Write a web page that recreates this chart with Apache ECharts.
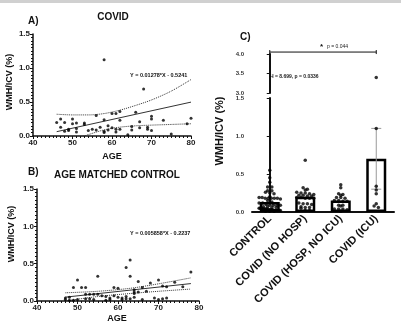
<!DOCTYPE html>
<html>
<head>
<meta charset="utf-8">
<script src="https://cdn.jsdelivr.net/npm/echarts@6/dist/echarts.min.js"></script>
<style>html,body{margin:0;padding:0;background:#fff}#chart{width:401px;height:322px}</style>
</head>
<body>
<div id="chart"></div>
<script>
// A) COVID - age vs WMH/ICV
var ageA = [46,47,47,48,48,49,49,50,50,51,51,51,53,53,54,55,56,56,57,58,58,58,58,59,59,60,60,61,61,61,62,62,62,64,65,65,66,67,67,68,69,69,70,70,70,73,75,79,80];
var wmhA = [0.20,0.25,0.13,0.20,0.07,0.10,0.08,0.25,0.18,0.19,0.11,0.06,0.19,0.17,0.08,0.10,0.30,0.09,0.13,1.12,0.24,0.07,0.05,0.15,0.09,0.33,0.12,0.33,0.10,0.06,0.23,0.36,0.10,0.02,0.14,0.09,0.35,0.21,0.12,0.69,0.13,0.10,0.29,0.25,0.08,0.23,0.03,0.18,0.26];
var fitA = [0.01278, -0.5241];
var fitRangeA = [46, 80];
var bandAgeA = [46, 50, 54, 58, 62, 66, 70, 75, 80];
var bandUpA = [0.32, 0.31, 0.31, 0.33, 0.38, 0.45, 0.53, 0.66, 0.83];
var bandLowA = [-0.15, -0.06, 0.02, 0.09, 0.13, 0.15, 0.16, 0.17, 0.18];

// B) age matched control
var ageB = [47,47,48,48,49,49,50,50,51,52,52,52,53,53,54,54,55,55,56,57,57,58,58,59,59,60,60,61,61,62,62,62,63,63,63,64,64,64,64,65,65,66,66,67,68,69,70,70,71,71,72,72,74,76,78];
var wmhB = [0.04,0.02,0.01,0.05,0.18,0.01,0.28,0.02,0.18,0.18,0.09,0.03,0.09,0.03,0.09,0.02,0.33,0.09,0.07,0.01,0.06,0.04,0.02,0.18,0.07,0.17,0.05,0.02,0.04,0.03,0.45,0.06,0.55,0.33,0.03,0.10,0.15,0.05,0.12,0.26,0.12,0.18,0.02,0.13,0.24,0.04,0.28,0.02,0.20,0.03,0.19,0.04,0.25,0.19,0.39];
var fitB = [0.005858, -0.2237];
var fitRangeB = [47, 78];
var bandAgeB = [47, 55, 63, 70, 78];
var bandUpB = [0.11, 0.13, 0.17, 0.23, 0.31];
var bandLowB = [0.00, 0.06, 0.10, 0.13, 0.16];

// C) groups
var groups = ['CONTROL', 'COVID (NO HOSP)', 'COVID (HOSP, NO ICU)', 'COVID (ICU)'];
var noHosp = [0.68,0.32,0.30,0.29,0.26,0.25,0.25,0.24,0.23,0.22,0.22,0.21,0.21,0.19,0.19,0.18,0.18,0.18,0.12,0.11,0.11,0.10,0.07,0.06,0.06,0.05,0.02,0.02];
var hospNoIcu = [0.36,0.32,0.24,0.23,0.22,0.19,0.19,0.18,0.15,0.15,0.14,0.14,0.09,0.09,0.08,0.04,0.04,0.04,0.03,0.01];
var icu = [3.40,1.10,0.34,0.29,0.24,0.11,0.08,0.06];
var groupMeans = [0.13, 0.20, 0.15, 0.70];
var icuErr = [0.30, 1.10];

var font = 'Liberation Sans, Arial, sans-serif';

function zip(xs, ys) { return xs.map(function (x, i) { return [x, ys[i]]; }); }
function fitLine(f, r) { return r.map(function (x) { return [x, f[0] * x + f[1]]; }); }

// simple beeswarm: points in the same value bin are spread sideways
function swarm(values, idx) {
  var sorted = values.slice().sort(function (a, b) { return b - a; });
  var bins = {};
  sorted.forEach(function (v) {
    var k = Math.round(v / 0.035);
    (bins[k] = bins[k] || []).push(v);
  });
  var out = [];
  Object.keys(bins).forEach(function (k) {
    var row = bins[k], n = row.length;
    var step = n > 1 ? Math.min(0.12, 0.6 / (n - 1)) : 0;
    row.forEach(function (v, j) { out.push([idx + (j - (n - 1) / 2) * step, v]); });
  });
  return out;
}

var groupVals = [wmhB, noHosp, hospNoIcu, icu];
var swarmPts = [];
groupVals.forEach(function (g, i) { swarmPts = swarmPts.concat(swarm(g, i)); });
var lowPts = swarmPts.filter(function (p) { return p[1] <= 1.5; });
var highPts = swarmPts.filter(function (p) { return p[1] >= 3; });

var axLine = { lineStyle: { color: '#111', width: 1.5 } };
var axLineC = { lineStyle: { color: '#111', width: 2 } };
var tickLbl = { color: '#222', fontWeight: 'bold', fontFamily: font, fontSize: 8 };
var fmt1 = function (v) { return v.toFixed(1); };

function ageAxis(gi) {
  return {
    type: 'value', gridIndex: gi, min: 40, max: 80, interval: 10,
    axisLine: axLine, axisTick: { length: 3, lineStyle: { color: '#111' } },
    minorTick: { show: true, splitNumber: 10, length: 2, lineStyle: { color: '#111' } },
    splitLine: { show: false }, axisLabel: Object.assign({ margin: 3 }, tickLbl)
  };
}
function wmhAxis(gi) {
  return {
    type: 'value', gridIndex: gi, min: 0, max: 1.5, interval: 0.5,
    axisLine: axLine, axisTick: { length: 3, lineStyle: { color: '#111' } },
    minorTick: { show: true, splitNumber: 10, length: 2, lineStyle: { color: '#111' } },
    splitLine: { show: false }, axisLabel: Object.assign({ margin: 3, formatter: fmt1 }, tickLbl)
  };
}

function dotted(data, xi, yi) {
  return { type: 'line', xAxisIndex: xi, yAxisIndex: yi, data: data, symbol: 'none', smooth: 0.3,
    lineStyle: { color: '#333', width: 1, type: 'dotted' }, clip: true, silent: true };
}

var myChart = echarts.init(document.getElementById('chart'));

var option = {
  backgroundColor: '#fff',
  animation: false,
  grid: [
    { left: 33, top: 34, width: 158, height: 102 },
    { left: 37, top: 189, width: 162, height: 112 },
    { left: 252, top: 98, width: 142, height: 114 },
    { left: 252, top: 54, width: 142, height: 39 }
  ],
  xAxis: [
    ageAxis(0),
    ageAxis(1),
    { type: 'category', gridIndex: 2, data: groups,
      axisLine: axLineC, axisTick: { length: 3, alignWithLabel: true, lineStyle: { color: '#111' } },
      axisLabel: { rotate: 45, interval: 0, margin: 5, color: '#111', fontWeight: 'bold', fontFamily: font, fontSize: 11 } },
    { type: 'value', gridIndex: 2, min: -0.5, max: 3.5, show: false },
    { type: 'value', gridIndex: 3, min: -0.5, max: 3.5, show: false }
  ],
  yAxis: [
    wmhAxis(0),
    wmhAxis(1),
    { type: 'value', gridIndex: 2, min: 0, max: 1.5, interval: 0.5, offset: 5,
      axisLine: axLineC, axisTick: { length: 3, lineStyle: { color: '#111' } }, splitLine: { show: false },
      axisLabel: { margin: 3, formatter: fmt1, color: '#333', fontWeight: 'bold', fontFamily: font, fontSize: 6 } },
    { type: 'value', gridIndex: 3, min: 3, max: 4, interval: 0.5, offset: 5,
      axisLine: axLineC, axisTick: { length: 3, lineStyle: { color: '#111' } }, splitLine: { show: false },
      axisLabel: { margin: 3, formatter: fmt1, color: '#333', fontWeight: 'bold', fontFamily: font, fontSize: 6 } }
  ],
  series: [
    { type: 'scatter', xAxisIndex: 0, yAxisIndex: 0, data: zip(ageA, wmhA), symbolSize: 3, itemStyle: { color: '#000' }, z: 5 },
    { type: 'line', xAxisIndex: 0, yAxisIndex: 0, data: fitLine(fitA, fitRangeA), symbol: 'none', lineStyle: { color: '#333', width: 1 } },
    dotted(zip(bandAgeA, bandUpA), 0, 0),
    dotted(zip(bandAgeA, bandLowA), 0, 0),

    { type: 'scatter', xAxisIndex: 1, yAxisIndex: 1, data: zip(ageB, wmhB), symbolSize: 3, itemStyle: { color: '#000' }, z: 5 },
    { type: 'line', xAxisIndex: 1, yAxisIndex: 1, data: fitLine(fitB, fitRangeB), symbol: 'none', lineStyle: { color: '#333', width: 1 } },
    dotted(zip(bandAgeB, bandUpB), 1, 1),
    dotted(zip(bandAgeB, bandLowB), 1, 1),

    { type: 'bar', xAxisIndex: 2, yAxisIndex: 2, data: groupMeans, barWidth: 20,
      itemStyle: { color: '#fff', borderColor: '#000', borderWidth: 2.5 }, z: 2 },
    { type: 'custom', xAxisIndex: 3, yAxisIndex: 2, data: [[3, icuErr[0], icuErr[1]]], z: 3,
      renderItem: function (params, api) {
        var lo = api.coord([api.value(0), api.value(1)]);
        var hi = api.coord([api.value(0), api.value(2)]);
        var st = { stroke: '#999', lineWidth: 1 };
        return { type: 'group', children: [
          { type: 'line', shape: { x1: lo[0], y1: lo[1], x2: hi[0], y2: hi[1] }, style: st },
          { type: 'line', shape: { x1: lo[0] - 5, y1: lo[1], x2: lo[0] + 5, y2: lo[1] }, style: st },
          { type: 'line', shape: { x1: hi[0] - 5, y1: hi[1], x2: hi[0] + 5, y2: hi[1] }, style: st }
        ] };
      } },
    { type: 'scatter', xAxisIndex: 3, yAxisIndex: 2, data: lowPts, symbolSize: 3.5, itemStyle: { color: '#000' }, z: 5 },
    { type: 'scatter', xAxisIndex: 4, yAxisIndex: 3, data: highPts, symbolSize: 3.5, itemStyle: { color: '#000' }, z: 5 },
    { type: 'custom', xAxisIndex: 4, yAxisIndex: 3, data: [[0, 3, 4.05]], clip: false, z: 3,
      renderItem: function (params, api) {
        var a = api.coord([api.value(0), api.value(2)]);
        var b = api.coord([api.value(1), api.value(2)]);
        var st = { stroke: '#111', lineWidth: 1 };
        return { type: 'group', children: [
          { type: 'line', shape: { x1: a[0], y1: a[1], x2: b[0], y2: b[1] }, style: st },
          { type: 'line', shape: { x1: a[0], y1: a[1] - 2, x2: a[0], y2: a[1] + 2 }, style: st },
          { type: 'line', shape: { x1: b[0], y1: b[1] - 2, x2: b[0], y2: b[1] + 2 }, style: st }
        ] };
      } }
  ],
  graphic: [
    { type: 'rect', shape: { x: 0, y: 0, width: 401, height: 3 }, style: { fill: '#d0d0d0' } },
    { type: 'text', x: 28, y: 21, style: { text: 'A)', font: 'bold 10px ' + font, fill: '#111', textVerticalAlign: 'middle' } },
    { type: 'text', x: 113, y: 17, style: { text: 'COVID', font: 'bold 10px ' + font, fill: '#111', textAlign: 'center', textVerticalAlign: 'middle' } },
    { type: 'text', x: 10, y: 82, rotation: Math.PI / 2, style: { text: 'WMH/ICV (%)', font: 'bold 9px ' + font, fill: '#111', textAlign: 'center', textVerticalAlign: 'middle' } },
    { type: 'text', x: 112, y: 157, style: { text: 'AGE', font: 'bold 9px ' + font, fill: '#111', textAlign: 'center', textVerticalAlign: 'middle' } },
    { type: 'text', x: 130, y: 75, style: { text: 'Y = 0.01278*X - 0.5241', font: 'bold 5.5px ' + font, fill: '#111', textVerticalAlign: 'middle' } },

    { type: 'text', x: 28, y: 172, style: { text: 'B)', font: 'bold 10px ' + font, fill: '#111', textVerticalAlign: 'middle' } },
    { type: 'text', x: 117, y: 175, style: { text: 'AGE MATCHED CONTROL', font: 'bold 10px ' + font, fill: '#111', textAlign: 'center', textVerticalAlign: 'middle' } },
    { type: 'text', x: 12, y: 234, rotation: Math.PI / 2, style: { text: 'WMH/ICV (%)', font: 'bold 9px ' + font, fill: '#111', textAlign: 'center', textVerticalAlign: 'middle' } },
    { type: 'text', x: 117, y: 319, style: { text: 'AGE', font: 'bold 9px ' + font, fill: '#111', textAlign: 'center', textVerticalAlign: 'middle' } },
    { type: 'text', x: 130, y: 233, style: { text: 'Y = 0.005858*X - 0.2237', font: 'bold 5.5px ' + font, fill: '#111', textVerticalAlign: 'middle' } },

    { type: 'text', x: 240, y: 37, style: { text: 'C)', font: 'bold 10px ' + font, fill: '#111', textVerticalAlign: 'middle' } },
    { type: 'text', x: 220, y: 131, rotation: Math.PI / 2, style: { text: 'WMH/ICV (%)', font: 'bold 11px ' + font, fill: '#111', textAlign: 'center', textVerticalAlign: 'middle' } },
    { type: 'text', x: 270, y: 77, style: { text: 'H = 8.699, p = 0.0336', font: 'bold 5px ' + font, fill: '#222', textVerticalAlign: 'middle' } },
    { type: 'text', x: 320, y: 47, style: { text: '*', font: 'bold 8px ' + font, fill: '#111', textVerticalAlign: 'middle' } },
    { type: 'text', x: 327, y: 47, style: { text: 'p = 0.044', font: '5px ' + font, fill: '#222', textVerticalAlign: 'middle' } }
  ]
};

option && myChart.setOption(option);
</script>
</body>
</html>
